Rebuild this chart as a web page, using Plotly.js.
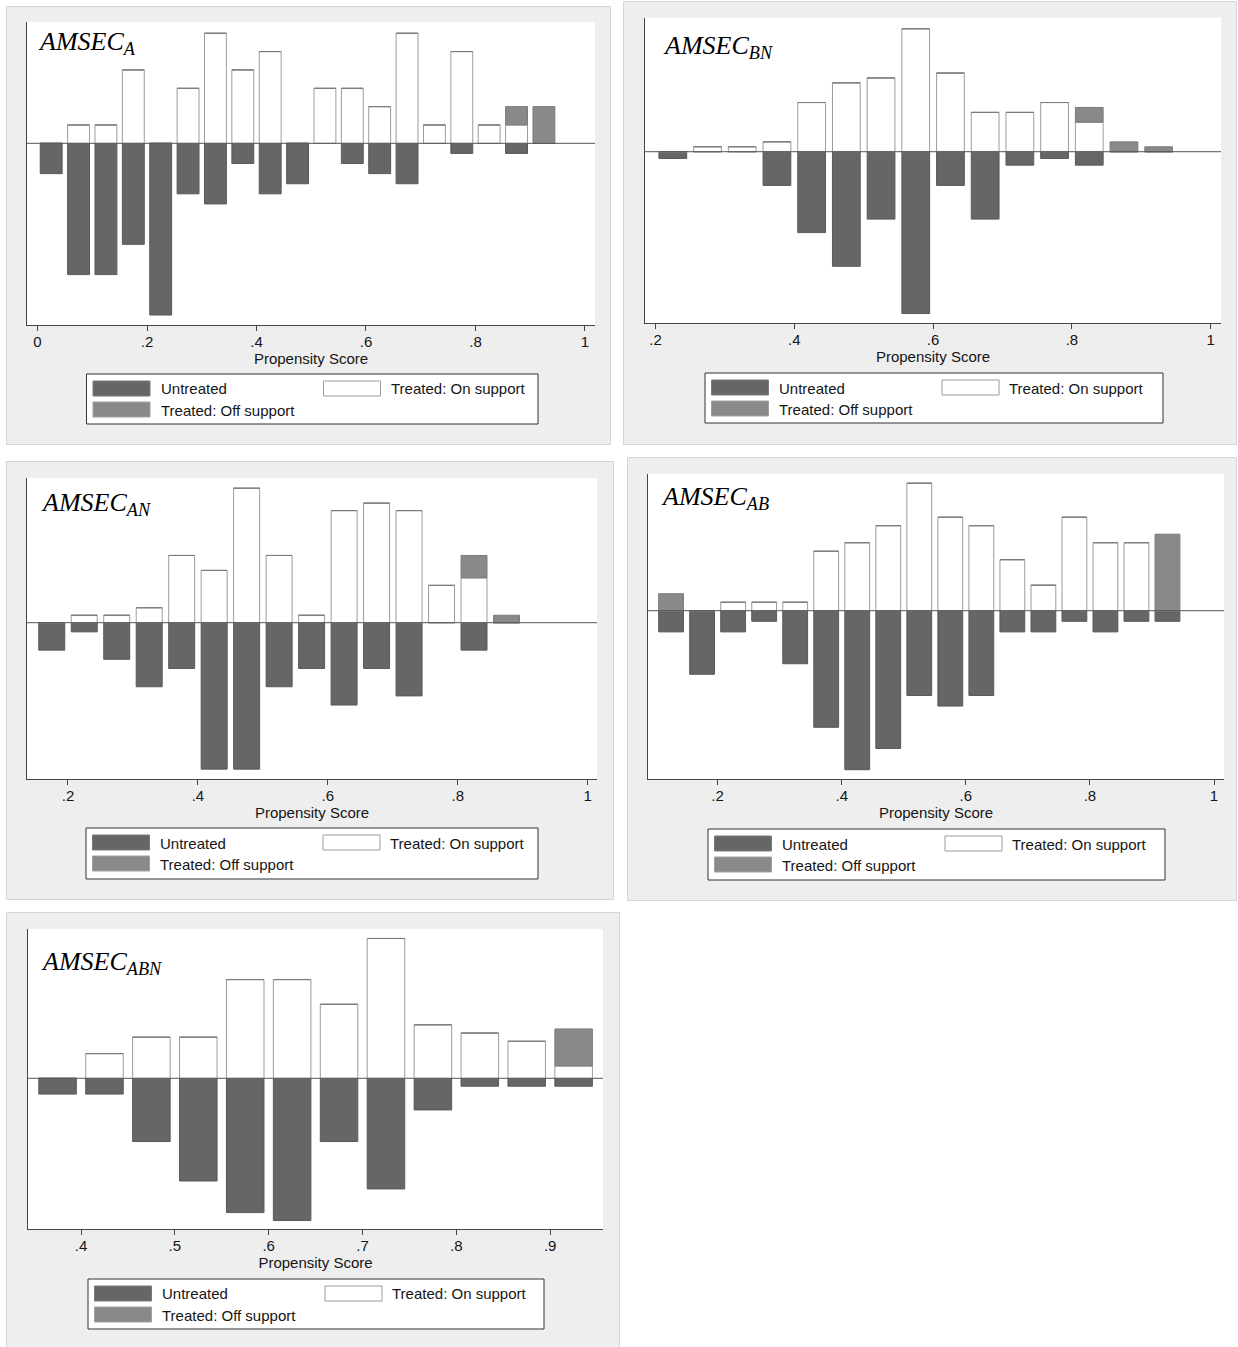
<!DOCTYPE html>
<html>
<head>
<meta charset="utf-8">
<script src="https://cdn.plot.ly/plotly-3.0.1.min.js"></script>
<style>
  html, body { margin: 0; padding: 0; background: #ffffff; }
  body { position: relative; width: 1238px; height: 1347px; overflow: hidden; }
  .panel { position: absolute; background: #eeeeee; box-shadow: 0 0 0 1px #d5d5d5; }
</style>
</head>
<body>
<div id="panelA" class="panel"></div>
<div id="panelBN" class="panel"></div>
<div id="panelAN" class="panel"></div>
<div id="panelAB" class="panel"></div>
<div id="panelABN" class="panel"></div>
<script>
// Propensity-score histograms (density), bins of width 0.05.
// Untreated are mirrored below zero; treated are stacked on / off support above.

// ---- AMSEC_A ----
const binsA = [0.025, 0.075, 0.125, 0.175, 0.225, 0.275, 0.325, 0.375, 0.425, 0.475,
               0.525, 0.575, 0.625, 0.675, 0.725, 0.775, 0.825, 0.875, 0.925];
const untreatedA = [0.674, 2.921, 2.921, 2.247, 3.820, 1.124, 1.348, 0.449, 1.124, 0.899,
                    0, 0.449, 0.674, 0.899, 0, 0.225, 0, 0.225, 0];
const treatedOnA = [0, 0.408, 0.408, 1.633, 0, 1.224, 2.449, 1.633, 2.041, 0,
                    1.224, 1.224, 0.816, 2.449, 0.408, 2.041, 0.408, 0.408, 0];
const treatedOffA = [0, 0, 0, 0, 0, 0, 0, 0, 0, 0,
                     0, 0, 0, 0, 0, 0, 0, 0.408, 0.816];

// ---- AMSEC_BN ----
const binsBN = [0.225, 0.275, 0.325, 0.375, 0.425, 0.475, 0.525, 0.575, 0.625, 0.675,
                0.725, 0.775, 0.825, 0.875, 0.925];
const untreatedBN = [0.225, 0, 0, 1.124, 2.697, 3.820, 2.247, 5.393, 1.124, 2.247,
                     0.449, 0.225, 0.449, 0, 0];
const treatedOnBN = [0, 0.164, 0.164, 0.328, 1.639, 2.295, 2.459, 4.098, 2.623, 1.311,
                     1.311, 1.639, 0.984, 0, 0];
const treatedOffBN = [0, 0, 0, 0, 0, 0, 0, 0, 0, 0,
                      0, 0, 0.492, 0.328, 0.164];

// ---- AMSEC_AN ----
const binsAN = [0.175, 0.225, 0.275, 0.325, 0.375, 0.425, 0.475, 0.525, 0.575, 0.625,
                0.675, 0.725, 0.775, 0.825, 0.875];
const untreatedAN = [0.674, 0.225, 0.899, 1.573, 1.124, 3.596, 3.596, 1.573, 1.124, 2.022,
                     1.124, 1.798, 0, 0.674, 0];
const treatedOnAN = [0, 0.183, 0.183, 0.367, 1.651, 1.284, 3.303, 1.651, 0.183, 2.752,
                     2.936, 2.752, 0.917, 1.101, 0];
const treatedOffAN = [0, 0, 0, 0, 0, 0, 0, 0, 0, 0,
                      0, 0, 0, 0.550, 0.183];

// ---- AMSEC_AB ----
const binsAB = [0.125, 0.175, 0.225, 0.275, 0.325, 0.375, 0.425, 0.475, 0.525, 0.575,
                0.625, 0.675, 0.725, 0.775, 0.825, 0.875, 0.925];
const untreatedAB = [0.449, 1.348, 0.449, 0.225, 1.124, 2.472, 3.371, 2.921, 1.798, 2.022,
                     1.798, 0.449, 0.449, 0.225, 0.449, 0.225, 0.225];
const treatedOnAB = [0, 0, 0.180, 0.180, 0.180, 1.261, 1.441, 1.802, 2.703, 1.982,
                     1.802, 1.081, 0.541, 1.982, 1.441, 1.441, 0];
const treatedOffAB = [0.360, 0, 0, 0, 0, 0, 0, 0, 0, 0,
                      0, 0, 0, 0, 0, 0, 1.622];

// ---- AMSEC_ABN ----
const binsABN = [0.375, 0.425, 0.475, 0.525, 0.575, 0.625, 0.675, 0.725, 0.775, 0.825,
                 0.875, 0.925];
const untreatedABN = [0.449, 0.449, 1.798, 2.921, 3.820, 4.045, 1.798, 3.146, 0.899, 0.225,
                      0.225, 0.225];
const treatedOnABN = [0, 0.702, 1.170, 1.170, 2.807, 2.807, 2.105, 3.977, 1.520, 1.287,
                      1.053, 0.351];
const treatedOffABN = [0, 0, 0, 0, 0, 0, 0, 0, 0, 0,
                       0, 1.053];

// Tick labels
const tickValsUnit = [0, 0.2, 0.4, 0.6, 0.8, 1];
const tickTextUnit = ['0', '.2', '.4', '.6', '.8', '1'];
const tickValsUpper = [0.2, 0.4, 0.6, 0.8, 1];
const tickTextUpper = ['.2', '.4', '.6', '.8', '1'];
const tickValsABN = [0.4, 0.5, 0.6, 0.7, 0.8, 0.9];
const tickTextABN = ['.4', '.5', '.6', '.7', '.8', '.9'];

const axisTitle = 'Propensity Score';
const legendLabels = { untreated: 'Untreated', on: 'Treated: On support', off: 'Treated: Off support' };

// Colours
const COL_UNTREATED = '#666666';
const COL_OFF = '#898989';
const COL_ON_LINE = '#9c9c9c';
const TXT = '#151515';
const SANS = 'Liberation Sans, Arial, Helvetica, sans-serif';
const SERIF = 'Liberation Serif, Times New Roman, serif';

// Page geometry of each graph: grey box, plot area, title and legend box (page pixels)
const panels = [
  { id: 'panelA', title: 'AMSEC<sub>A</sub>',
    bins: binsA, untreated: untreatedA, on: treatedOnA, off: treatedOffA,
    tickVals: tickValsUnit, tickText: tickTextUnit,
    xRange: [-0.0192, 1.0183], yRange: [-4.042, 2.699],
    box: { x0: 7, y0: 7, x1: 610, y1: 444 }, plot: { x0: 27, y0: 22, x1: 595, y1: 325 },
    titleAt: [36, 25], legend: { x0: 86.5, y0: 374, x1: 538, y1: 424 } },
  { id: 'panelBN', title: 'AMSEC<sub>BN</sub>',
    bins: binsBN, untreated: untreatedBN, on: treatedOnBN, off: treatedOffBN,
    tickVals: tickValsUpper, tickText: tickTextUpper,
    xRange: [0.1849, 1.0148], yRange: [-5.71, 4.457],
    box: { x0: 624, y0: 2, x1: 1236, y1: 444 }, plot: { x0: 645, y0: 18, x1: 1221, y1: 323 },
    titleAt: [661, 29], legend: { x0: 705, y0: 373, x1: 1163, y1: 423 } },
  { id: 'panelAN', title: 'AMSEC<sub>AN</sub>',
    bins: binsAN, untreated: untreatedAN, on: treatedOnAN, off: treatedOffAN,
    tickVals: tickValsUpper, tickText: tickTextUpper,
    xRange: [0.1369, 1.0143], yRange: [-3.838, 3.553],
    box: { x0: 7, y0: 462, x1: 613, y1: 899 }, plot: { x0: 27, y0: 478, x1: 597, y1: 779 },
    titleAt: [39, 486], legend: { x0: 86, y0: 828, x1: 538, y1: 879 } },
  { id: 'panelAB', title: 'AMSEC<sub>AB</sub>',
    bins: binsAB, untreated: untreatedAB, on: treatedOnAB, off: treatedOffAB,
    tickVals: tickValsUpper, tickText: tickTextUpper,
    xRange: [0.0878, 1.0161], yRange: [-3.568, 2.898],
    box: { x0: 628, y0: 458, x1: 1236, y1: 900 }, plot: { x0: 648, y0: 474, x1: 1224, y1: 779 },
    titleAt: [659, 480], legend: { x0: 708, y0: 829, x1: 1165, y1: 880 } },
  { id: 'panelABN', title: 'AMSEC<sub>ABN</sub>',
    bins: binsABN, untreated: untreatedABN, on: treatedOnABN, off: treatedOffABN,
    tickVals: tickValsABN, tickText: tickTextABN,
    xRange: [0.3435, 0.9563], yRange: [-4.286, 4.246],
    box: { x0: 7, y0: 913, x1: 619, y1: 1353 }, plot: { x0: 28, y0: 929, x1: 603, y1: 1229 },
    titleAt: [39, 945], legend: { x0: 88, y0: 1279, x1: 544, y1: 1329 } }
];

function drawPanel(p) {
  const el = document.getElementById(p.id);
  const W = p.box.x1 - p.box.x0, H = p.box.y1 - p.box.y0;
  el.style.left = p.box.x0 + 'px';
  el.style.top = p.box.y0 + 'px';
  el.style.width = W + 'px';
  el.style.height = H + 'px';

  const m = { l: p.plot.x0 - p.box.x0, t: p.plot.y0 - p.box.y0,
              r: p.box.x1 - p.plot.x1, b: p.box.y1 - p.plot.y1, pad: 0 };
  const pw = p.plot.x1 - p.plot.x0, ph = p.plot.y1 - p.plot.y0;
  // page pixel -> paper coordinate
  const px = X => (X - p.plot.x0) / pw;
  const py = Y => 1 - (Y - p.plot.y0) / ph;

  const barCommon = { type: 'bar', x: p.bins, width: 0.04, hoverinfo: 'skip', showlegend: false };
  const traces = [
    Object.assign({}, barCommon, { name: legendLabels.untreated, y: p.untreated.map(v => -v),
      marker: { color: COL_UNTREATED, line: { color: '#595959', width: 1 } } }),
    Object.assign({}, barCommon, { name: legendLabels.on, y: p.on,
      marker: { color: '#ffffff', line: { color: COL_ON_LINE, width: 1 } } }),
    Object.assign({}, barCommon, { name: legendLabels.off, y: p.off,
      marker: { color: COL_OFF, line: { color: '#7c7c7c', width: 1 } } })
  ];

  const L = p.legend;
  const shapes = [
    // baseline at zero
    { type: 'line', xref: 'paper', yref: 'y', x0: 0, x1: 1, y0: 0, y1: 0,
      line: { color: '#555555', width: 1 } },
    // legend frame
    { type: 'rect', xref: 'paper', yref: 'paper', x0: px(L.x0), x1: px(L.x1), y0: py(L.y1), y1: py(L.y0),
      fillcolor: '#ffffff', line: { color: '#333333', width: 1 } },
    // legend keys
    { type: 'rect', xref: 'paper', yref: 'paper', x0: px(L.x0 + 6.5), x1: px(L.x0 + 63.5),
      y0: py(L.y0 + 22), y1: py(L.y0 + 7), fillcolor: COL_UNTREATED, line: { color: '#7a7a7a', width: 1 } },
    { type: 'rect', xref: 'paper', yref: 'paper', x0: px(L.x0 + 6.5), x1: px(L.x0 + 63.5),
      y0: py(L.y0 + 43), y1: py(L.y0 + 28), fillcolor: COL_OFF, line: { color: '#a0a0a0', width: 1 } },
    { type: 'rect', xref: 'paper', yref: 'paper', x0: px(L.x0 + 237), x1: px(L.x0 + 294),
      y0: py(L.y0 + 22), y1: py(L.y0 + 7), fillcolor: '#ffffff', line: { color: COL_ON_LINE, width: 1 } }
  ];

  const legendFont = { family: SANS, size: 15, color: TXT };
  const annotations = [
    { xref: 'paper', yref: 'paper', x: px(p.titleAt[0]), y: py(p.titleAt[1]),
      xanchor: 'left', yanchor: 'top', showarrow: false, text: '<i>' + p.title + '</i>',
      font: { family: SERIF, size: 26, color: '#000000' } },
    { xref: 'paper', yref: 'paper', x: px(L.x0 + 72), y: py(L.y0 + 15),
      xanchor: 'left', yanchor: 'middle', showarrow: false, text: legendLabels.untreated, font: legendFont },
    { xref: 'paper', yref: 'paper', x: px(L.x0 + 72), y: py(L.y0 + 36),
      xanchor: 'left', yanchor: 'middle', showarrow: false, text: legendLabels.off, font: legendFont },
    { xref: 'paper', yref: 'paper', x: px(L.x0 + 302), y: py(L.y0 + 15),
      xanchor: 'left', yanchor: 'middle', showarrow: false, text: legendLabels.on, font: legendFont }
  ];

  const layout = {
    width: W, height: H, margin: m,
    paper_bgcolor: '#eeeeee', plot_bgcolor: '#ffffff',
    barmode: 'relative', showlegend: false,
    xaxis: {
      range: p.xRange, tickmode: 'array', tickvals: p.tickVals, ticktext: p.tickText,
      ticks: 'outside', ticklen: 5, tickwidth: 1, tickcolor: '#444444',
      ticklabelstandoff: -2,
      showline: true, linecolor: '#444444', linewidth: 1, mirror: false,
      showgrid: false, zeroline: false, fixedrange: true,
      tickfont: { family: SANS, size: 15, color: TXT },
      title: { text: axisTitle, font: { family: SANS, size: 15, color: TXT }, standoff: 0 }
    },
    yaxis: {
      range: p.yRange, showline: true, linecolor: '#444444', linewidth: 1,
      showticklabels: false, ticks: '', showgrid: false, zeroline: false, fixedrange: true
    },
    shapes: shapes,
    annotations: annotations
  };

  Plotly.newPlot(el, traces, layout, { staticPlot: true, displayModeBar: false });
}

panels.forEach(drawPanel);
</script>
</body>
</html>
